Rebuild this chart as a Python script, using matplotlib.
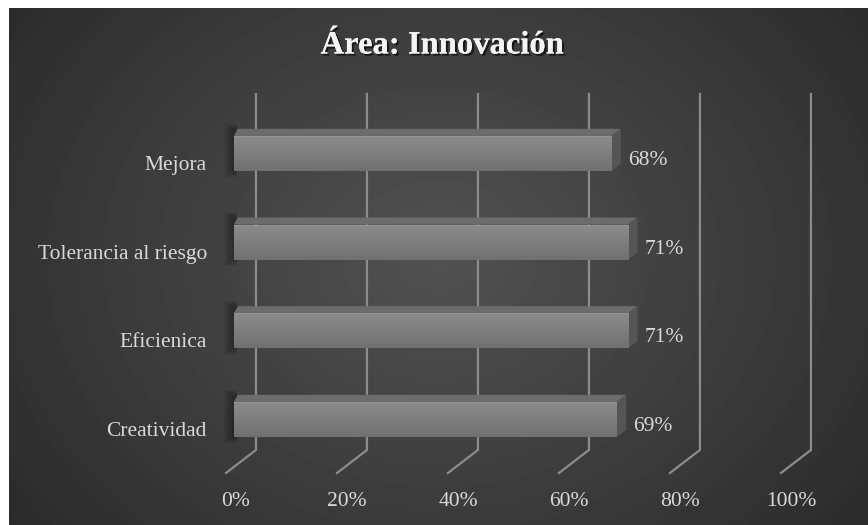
import numpy as np
import matplotlib
matplotlib.use("Agg")
import matplotlib.pyplot as plt
from matplotlib.patches import Polygon
from matplotlib import patheffects as pe

# datos del área
categorias = ["Creatividad", "Eficienica", "Tolerancia al riesgo", "Mejora"]
valores = [69, 71, 71, 68]
ticks = [0, 20, 40, 60, 80, 100]
etiquetas_ticks = ["0%", "20%", "40%", "60%", "80%", "100%"]
titulo = "Área: Innovación"

W, H = 868, 525
FUENTE = "Liberation Serif"
GRIS_TEXTO = "#d9d9d9"
TAM = 15.5

# geometría del efecto 3D (en unidades de datos)
ALTO_BARRA = 0.395
PROF_X = 1.7
PROF_Y = 0.08
FONDO_X = 3.96      # desplazamiento del plano trasero
TECHO_Y = 3.67
SUELO_Y = -0.344
SUELO_FRENTE_X = -1.44
SUELO_FRENTE_Y = -0.604

fig = plt.figure(figsize=(W / 100, H / 100), dpi=100, facecolor="white")

# fondo con degradado radial
bg = fig.add_axes([0, 0, 1, 1])
bg.set_xlim(0, W)
bg.set_ylim(0, H)
bg.axis("off")
yy, xx = np.mgrid[0:H - 8, 0:W - 9]
r = np.sqrt(((xx - 430) / 540) ** 2 + ((yy - 250) / 440) ** 2)
sombra = 0.32 - 0.15 * np.clip(r, 0, 1.1)
bg.imshow(sombra, cmap="gray", vmin=0, vmax=1, extent=(9, W, 0, H - 8),
          origin="upper", aspect="auto", interpolation="bilinear")

ax = fig.add_axes([0.2312, 0.0659, 0.7161, 0.777])
ax.set_xlim(-6, 106)
ax.set_ylim(-0.8, 3.8)
ax.axis("off")
ax.patch.set_alpha(0)

# rejilla: línea vertical en el plano trasero y tramo diagonal en el suelo
for t, lbl in zip(ticks, etiquetas_ticks):
    xb = t + FONDO_X
    ax.plot([xb, xb, t + SUELO_FRENTE_X], [TECHO_Y, SUELO_Y, SUELO_FRENTE_Y],
            color="#8c8c8c", lw=1.6, zorder=1, solid_joinstyle="miter")
    ax.annotate(lbl, (t, SUELO_FRENTE_Y), xytext=(2, -28), textcoords="offset pixels",
                ha="center", va="center", color=GRIS_TEXTO, fontsize=TAM, family=FUENTE)

grad = np.linspace(0.55, 0.44, 64).reshape(-1, 1)
grad[:3] = 0.60

for i, (cat, v) in enumerate(zip(categorias, valores)):
    y0 = i - ALTO_BARRA / 2
    y1 = i + ALTO_BARRA / 2
    # sombra difusa a la izquierda
    for k in range(6):
        ext = 0.3 * (k + 1)
        ax.add_patch(Polygon([(-ext, y0 - 0.015 * k), (0.5, y0 - 0.015 * k),
                              (0.5, y1 + PROF_Y + 0.012 * k), (-ext, y1 + PROF_Y + 0.012 * k)],
                             closed=True, facecolor="black", alpha=0.06, lw=0, zorder=2))
    # cara superior
    ax.add_patch(Polygon([(0, y1), (v, y1), (v + PROF_X, y1 + PROF_Y), (PROF_X * 0.4, y1 + PROF_Y)],
                         closed=True, facecolor="#6c6c6c", edgecolor="none", zorder=3))
    # cara lateral
    ax.add_patch(Polygon([(v, y0), (v + PROF_X, y0 + PROF_Y), (v + PROF_X, y1 + PROF_Y), (v, y1)],
                         closed=True, facecolor="#555555", edgecolor="none", zorder=3))
    # cara frontal con degradado
    bar = ax.barh(i, v, height=ALTO_BARRA, color="#7e7e7e", lw=0, zorder=4)[0]
    img = ax.imshow(grad, cmap="gray", vmin=0, vmax=1, extent=(0, v, y0, y1),
                    aspect="auto", origin="upper", zorder=5, interpolation="bilinear")
    img.set_clip_path(bar)

    ax.annotate(f"{v}%", (v + PROF_X, i), xytext=(7, -7), textcoords="offset pixels",
                ha="left", va="center", color=GRIS_TEXTO, fontsize=TAM, family=FUENTE)
    ax.annotate(cat, (0, i), xytext=(-27, -12), textcoords="offset pixels",
                ha="right", va="center", color=GRIS_TEXTO, fontsize=TAM, family=FUENTE)

ax.set_xlim(-6, 106)
ax.set_ylim(-0.8, 3.8)

fig.text(442 / W, 1 - 45 / H, titulo, ha="center", va="center", fontsize=23.5,
         fontweight="bold", family=FUENTE, color="#f4f4f4",
         path_effects=[pe.withSimplePatchShadow(offset=(1.5, -1.5), shadow_rgbFace="black", alpha=0.6),
                       pe.Normal()])

fig.savefig("out.png", dpi=100, facecolor="white")
